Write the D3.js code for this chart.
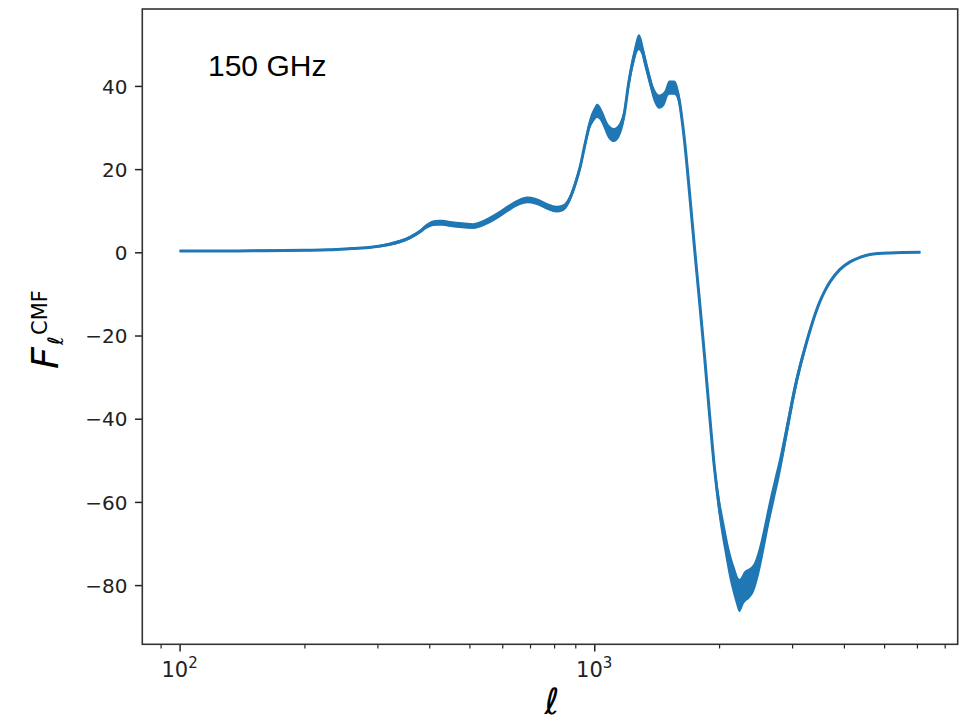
<!DOCTYPE html>
<html>
<head>
<meta charset="utf-8">
<script src="https://cdn.jsdelivr.net/npm/d3@7"></script>
<style>
  html, body { margin: 0; padding: 0; background: #fff; }
  svg { display: block; }
</style>
</head>
<body>
<svg id="chart" width="964" height="722"></svg>
<script>
// Multipole values
const ell = [
  100, 130, 160, 200, 230, 260, 290, 320, 340, 360,
  380, 395, 410, 430, 450, 480, 510, 540, 570, 600,
  630, 660, 690, 720, 750, 780, 810, 840, 870, 900,
  925, 950, 975, 1000, 1015, 1030, 1050, 1080, 1115, 1150,
  1180, 1210, 1245, 1280, 1300, 1320, 1355, 1395, 1435, 1475,
  1515, 1560, 1600, 1625, 1650, 1700, 1745, 1795, 1845, 1895,
  1950, 2000, 2060, 2120, 2180, 2240, 2300, 2370, 2430, 2500,
  2570, 2640, 2720, 2800, 2884, 2965, 3049, 3134, 3222, 3313,
  3406, 3502, 3601, 3702, 3914, 4138, 4374, 4624, 5168, 6120];

// F_ell^CMF at 150 GHz
const fcmf = [
  0.3, 0.3, 0.4, 0.5, 0.6, 0.9, 1.2, 1.9, 2.6, 3.6,
  5.0, 6.3, 7.0, 7.1, 6.8, 6.5, 6.3, 7.0, 8.2, 9.6,
  11.0, 12.1, 12.6, 12.3, 11.6, 10.8, 10.4, 10.7, 12.6, 16.5,
  20.6, 26.0, 30.8, 33.2, 34.0, 33.6, 32.0, 29.2, 28.2, 29.4,
  33.0, 40.5, 46.8, 50.5, 49.5, 46.7, 42.2, 37.8, 36.2, 37.0,
  39.6, 39.6, 37.0, 32.5, 27.0, 13.5, 1.0, -12.0, -25.0, -38.5,
  -52.0, -61.0, -68.5, -75.0, -79.5, -82.5, -80.5, -79.5, -78.0, -74.0,
  -68.5, -62.7, -57.0, -51.5, -45.0, -38.7, -32.6, -27.5, -23.0, -18.8,
  -15.0, -11.8, -9.2, -7.1, -4.1, -2.3, -1.2, -0.5, -0.15, 0.0];

// Half-width of the realisation scatter around the curve
const scatter = [
  0.25, 0.25, 0.25, 0.25, 0.25, 0.25, 0.25, 0.4, 0.4, 0.45,
  0.5, 0.6, 0.7, 0.7, 0.7, 0.7, 0.7, 0.75, 0.8, 0.8,
  0.8, 0.8, 0.8, 0.8, 0.8, 0.8, 0.8, 0.8, 0.9, 1.0,
  1.1, 1.2, 1.4, 1.6, 1.7, 1.7, 1.7, 1.7, 1.7, 1.7,
  1.7, 1.8, 1.8, 1.9, 1.9, 1.8, 1.7, 1.7, 1.7, 1.7,
  1.7, 1.7, 1.7, 1.7, 1.7, 1.8, 1.8, 1.8, 1.8, 2.0,
  2.4, 2.8, 3.2, 3.5, 3.8, 4.0, 3.8, 3.6, 3.4, 3.2,
  3.0, 2.8, 2.6, 2.4, 2.2, 2.0, 1.7, 1.4, 1.1, 0.9,
  0.7, 0.5, 0.4, 0.3, 0.2, 0.15, 0.1, 0.1, 0.1, 0.1];

const yTicks = [-80, -60, -40, -20, 0, 20, 40];
const xMajorTicks = [100, 1000];
const xMinorTicks = [90, 200, 300, 400, 500, 600, 700, 800, 900, 2000, 3000, 4000, 5000, 6000, 7000];
const panelLabel = "150 GHz";

const svg = d3.select("#chart");
const plotLeft = 142.3, plotRight = 957.7, plotTop = 9, plotBottom = 644.3;

const x = d3.scaleLog().domain([81.3, 7524]).range([plotLeft, plotRight]);
const y = d3.scaleLinear().domain([-94.23, 58.49]).range([plotBottom, plotTop]);

const points = ell.map((l, i) => ({ l, v: fcmf[i], s: scatter[i] }));

const blue = "#1f77b4";
const tickColor = "#222";
const tickFont = "'DejaVu Sans', sans-serif";

// Scatter band and central curve
svg.append("path")
  .datum(points)
  .attr("fill", blue)
  .attr("d", d3.area()
    .x(d => x(d.l))
    .y0(d => y(d.v - d.s))
    .y1(d => y(d.v + d.s))
    .curve(d3.curveMonotoneX));

svg.append("path")
  .datum(points)
  .attr("fill", "none")
  .attr("stroke", blue)
  .attr("stroke-width", 3)
  .attr("stroke-linejoin", "round")
  .attr("stroke-linecap", "butt")
  .attr("d", d3.line()
    .x(d => x(d.l))
    .y(d => y(d.v))
    .curve(d3.curveMonotoneX));

// Y axis
const yAxis = svg.append("g")
  .attr("transform", `translate(${plotLeft},0)`)
  .call(d3.axisLeft(y).tickValues(yTicks).tickSize(7.3).tickPadding(7.5)
    .tickFormat(d => (d < 0 ? "\u2212" : "") + Math.abs(d)));
yAxis.select(".domain").remove();
yAxis.selectAll("line").attr("stroke", tickColor).attr("stroke-width", 1.5);
yAxis.selectAll("text")
  .attr("font-family", tickFont).attr("font-size", 20).attr("fill", tickColor)
  .attr("dy", "0.36em");

// X axis: minor ticks
const xMinor = svg.append("g")
  .attr("transform", `translate(0,${plotBottom})`)
  .call(d3.axisBottom(x).tickValues(xMinorTicks).tickSize(4.2).tickFormat(""));
xMinor.select(".domain").remove();
xMinor.selectAll("line").attr("stroke", tickColor).attr("stroke-width", 1.2);

// X axis: major ticks with power-of-ten labels
const xMajor = svg.append("g")
  .attr("transform", `translate(0,${plotBottom})`)
  .call(d3.axisBottom(x).tickValues(xMajorTicks).tickSize(7.3).tickFormat(""));
xMajor.select(".domain").remove();
xMajor.selectAll("line").attr("stroke", tickColor).attr("stroke-width", 1.5);

xMajorTicks.forEach(t => {
  const txt = svg.append("text")
    .attr("x", x(t))
    .attr("y", 677)
    .attr("text-anchor", "middle")
    .attr("font-family", tickFont)
    .attr("font-size", 21)
    .attr("fill", tickColor);
  txt.append("tspan").text("10");
  txt.append("tspan").attr("font-size", 15).attr("dy", -9.5).text(String(Math.round(Math.log10(t))));
});

// Frame
svg.append("rect")
  .attr("x", plotLeft).attr("y", plotTop)
  .attr("width", plotRight - plotLeft).attr("height", plotBottom - plotTop)
  .attr("fill", "none").attr("stroke", "#333").attr("stroke-width", 1.6);

// Axis labels
svg.append("text")
  .attr("x", (plotLeft + plotRight) / 2 + 2)
  .attr("y", 714)
  .attr("text-anchor", "middle")
  .attr("font-family", tickFont)
  .attr("font-style", "italic")
  .attr("font-size", 36)
  .attr("fill", "#000")
  .text("\u2113");

const yl = svg.append("g").attr("transform", "translate(58,369) rotate(-90)");
yl.append("text")
  .attr("x", 0).attr("y", 0)
  .attr("font-family", tickFont).attr("font-style", "italic").attr("font-size", 38)
  .attr("fill", "#000").text("F");
yl.append("text")
  .attr("x", 34).attr("y", -11)
  .attr("font-family", tickFont).attr("font-size", 21)
  .attr("fill", "#000").text("CMF");
yl.append("text")
  .attr("x", 24).attr("y", 5)
  .attr("font-family", tickFont).attr("font-style", "italic").attr("font-size", 21)
  .attr("fill", "#000").text("\u2113");

// Panel label
svg.append("text")
  .attr("x", 208).attr("y", 76)
  .attr("font-family", "'Liberation Sans', Arial, sans-serif")
  .attr("font-size", 30)
  .attr("fill", "#000")
  .text(panelLabel);
</script>
</body>
</html>
